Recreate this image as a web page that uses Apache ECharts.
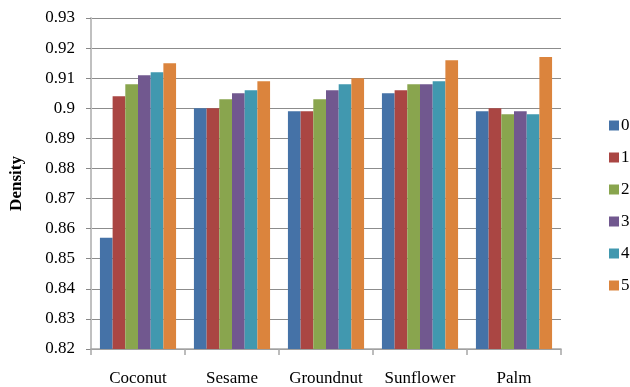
<!DOCTYPE html>
<html><head><meta charset="utf-8">
<script src="https://cdn.jsdelivr.net/npm/echarts@6/dist/echarts.min.js"></script>
<style>html,body{margin:0;padding:0;background:#fff}#c{width:630px;height:387px}</style>
</head><body><div id="c"></div>
<script>
const categories = ['Coconut','Sesame','Groundnut','Sunflower','Palm'];
const seriesNames = ['0','1','2','3','4','5'];
const s0 = [0.857, 0.900, 0.899, 0.905, 0.899];
const s1 = [0.904, 0.900, 0.899, 0.906, 0.900];
const s2 = [0.908, 0.903, 0.903, 0.908, 0.898];
const s3 = [0.911, 0.905, 0.906, 0.908, 0.899];
const s4 = [0.912, 0.906, 0.908, 0.909, 0.898];
const s5 = [0.915, 0.909, 0.910, 0.916, 0.917];
const values = [s0,s1,s2,s3,s4,s5];
const colors = ['#4572A7','#AA4643','#89A54E','#71588F','#4198AF','#DB843D'];
const yMin = 0.82, yMax = 0.93, yStep = 0.01;

const chart = echarts.init(document.getElementById('c'), null, {renderer:'canvas'});
chart.setOption({
  animation:false,
  color: colors,
  grid:{left:91, right:69, top:18, bottom:36},
  legend:{
    orient:'vertical', left:604, top:112, itemGap:15,
    itemWidth:10, itemHeight:10, icon:'rect',
    textStyle:{fontFamily:'Liberation Serif', fontSize:17, color:'#000', padding:[0,0,0,-3]},
    data: seriesNames
  },
  xAxis:{
    type:'category', data:categories,
    axisLine:{lineStyle:{color:'#a6a6a6', width:1.5}},
    axisTick:{show:true, length:6, lineStyle:{color:'#a6a6a6', width:1.5}},
    axisLabel:{interval:0, fontFamily:'Liberation Serif', fontSize:17, color:'#000', margin:21},
  },
  yAxis:{
    type:'value', min:yMin, max:yMax, interval:yStep,
    name:'Density', nameLocation:'middle', nameGap:66, nameRotate:90,
    nameTextStyle:{fontFamily:'Liberation Serif', fontSize:17, fontWeight:'bold', color:'#000'},
    axisLine:{show:true, lineStyle:{color:'#c0c0c0', width:2}},
    axisTick:{show:true, inside:false, length:5, lineStyle:{color:'#888'}},
    axisLabel:{fontFamily:'Liberation Serif', fontSize:17, color:'#000', margin:16,
      formatter: v => String(parseFloat(v.toFixed(2)))},
    splitLine:{lineStyle:{color:'#8c8c8c', width:1}}
  },
  series: seriesNames.map((n,i)=>({
    name:n, type:'bar', data: values[i],
    barGap:'0%', barCategoryGap:'19%',
    itemStyle:{color:colors[i]}
  }))
});
</script></body></html>
